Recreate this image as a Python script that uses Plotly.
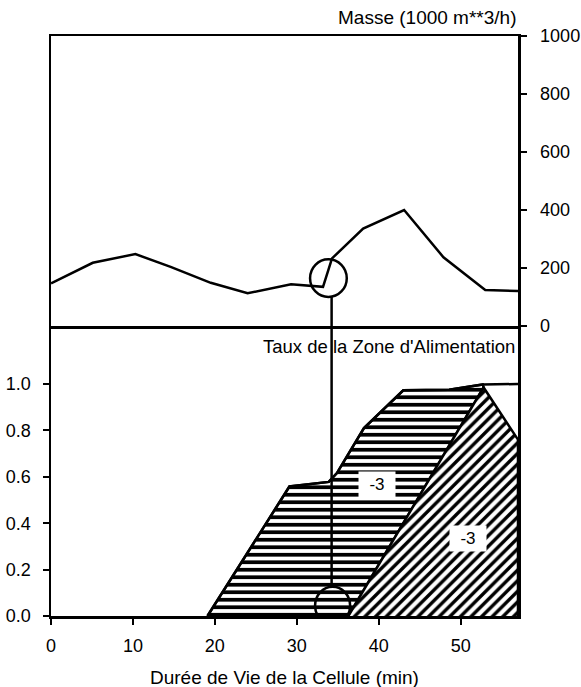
import plotly.graph_objects as go

# ---- data ----
# Top panel: Masse (1000 m**3/h) vs cell lifetime (min)
masse_x = [0, 5.1, 10.3, 14.6, 19.5, 24.0, 29.3, 33.2, 34.3, 38.1, 43.1, 47.9, 53.0, 57.0]
masse_y = [147, 218, 248, 204, 149, 113, 144, 135, 233, 336, 400, 237, 124, 121]

# Bottom panel: upper curve (Taux de la Zone d'Alimentation, cumulative)
upper_x = [19.1, 29.1, 33.9, 34.9, 38.2, 40.5, 43.0, 48.6, 52.7, 57.0]
upper_y = [0.0, 0.558, 0.578, 0.616, 0.81, 0.89, 0.973, 0.975, 0.998, 1.0]

# Bottom panel: lower curve (diagonal hatched region)
lower_x = [36.3, 52.8, 57.0, 57.0]
lower_y = [0.0, 0.985, 0.76, 0.0]

x_ticks = [0, 10, 20, 30, 40, 50]
top_ticks = [0, 200, 400, 600, 800, 1000]
bottom_ticks = [0.0, 0.2, 0.4, 0.6, 0.8, 1.0]
bottom_ticktext = ["0.0", "0.2", "0.4", "0.6", "0.8", "1.0"]

labels_text = ["-3", "-3"]
labels_x = [39.8, 50.9]
labels_y = [0.566, 0.333]

marker_x = 34.25
top_circle = dict(x=33.86, y=165, rx=2.24, ry=65)
bot_circle = dict(x=34.37, y=0.044, rx=2.14, ry=0.082)

X_MAX = 57.0
FONT = "Liberation Sans"
FS = 19
TFS = 18
LW = 2.5

fig = go.Figure()

# horizontal-hatched region: between upper curve (up to peak) and lower diagonal edge
n_peak = len(upper_x) - 1
hx = upper_x[:n_peak] + [lower_x[1], lower_x[0]]
hy = upper_y[:n_peak] + [lower_y[1], lower_y[0]]
fig.add_trace(go.Scatter(
    x=hx, y=hy, xaxis="x", yaxis="y", mode="lines", fill="toself",
    line=dict(color="black", width=LW),
    fillcolor="white",
    fillpattern=dict(shape="-", size=7.5, solidity=0.5, fgcolor="black",
                     bgcolor="white", fillmode="replace"),
    hoverinfo="skip", showlegend=False))

# diagonal-hatched region
fig.add_trace(go.Scatter(
    x=lower_x, y=lower_y, xaxis="x", yaxis="y", mode="lines", fill="toself",
    line=dict(color="black", width=LW),
    fillcolor="white",
    fillpattern=dict(shape="/", size=7.5, solidity=0.45, fgcolor="black",
                     bgcolor="white", fillmode="replace"),
    hoverinfo="skip", showlegend=False))

# full upper curve line
fig.add_trace(go.Scatter(
    x=upper_x, y=upper_y, xaxis="x", yaxis="y", mode="lines",
    line=dict(color="black", width=LW), hoverinfo="skip", showlegend=False))

# top panel line
fig.add_trace(go.Scatter(
    x=masse_x, y=masse_y, xaxis="x2", yaxis="y2", mode="lines",
    line=dict(color="black", width=LW), showlegend=False))

shapes = [
    dict(type="circle", xref="x2", yref="y2",
         x0=top_circle["x"] - top_circle["rx"], x1=top_circle["x"] + top_circle["rx"],
         y0=top_circle["y"] - top_circle["ry"], y1=top_circle["y"] + top_circle["ry"],
         line=dict(color="black", width=LW)),
    dict(type="line", xref="x2", yref="y2", x0=marker_x, x1=marker_x,
         y0=top_circle["y"] - top_circle["ry"], y1=0,
         line=dict(color="black", width=LW)),
    dict(type="line", xref="x", yref="y", x0=marker_x, x1=marker_x,
         y0=1.25, y1=bot_circle["y"] + bot_circle["ry"],
         line=dict(color="black", width=LW)),
    dict(type="circle", xref="x", yref="y",
         x0=bot_circle["x"] - bot_circle["rx"], x1=bot_circle["x"] + bot_circle["rx"],
         y0=bot_circle["y"] - bot_circle["ry"], y1=bot_circle["y"] + bot_circle["ry"],
         line=dict(color="black", width=LW)),
]

annotations = [
    dict(text="Masse (1000 m**3/h)", xref="paper", yref="paper", x=1.0, y=1 + 19 / 580,
         xanchor="right", yanchor="middle", showarrow=False,
         font=dict(family=FONT, size=FS, color="black")),
    dict(text="Taux de la Zone d'Alimentation", xref="x", yref="y", x=X_MAX - 0.1, y=1.161,
         xanchor="right", yanchor="middle", showarrow=False,
         font=dict(family=FONT, size=FS - 0.5, color="black")),
    dict(text="Durée de Vie de la Cellule (min)", xref="paper", yref="paper", x=0.5,
         y=-(677 - 616) / 580, xanchor="center", yanchor="middle", showarrow=False,
         font=dict(family=FONT, size=FS, color="black")),
]
for t, lx, ly in zip(labels_text, labels_x, labels_y):
    annotations.append(dict(text=t, xref="x", yref="y", x=lx, y=ly, showarrow=False,
                            bgcolor="white", width=34, height=23,
                            font=dict(family=FONT, size=17, color="black")))

axis_common = dict(showgrid=False, zeroline=False, linecolor="black", linewidth=LW,
                   tickcolor="black", tickwidth=2, ticklen=6,
                   tickfont=dict(family=FONT, size=TFS, color="black"))

fig.update_layout(
    width=581, height=687,
    margin=dict(l=51, r=63, t=36, b=71, autoexpand=False),
    paper_bgcolor="white", plot_bgcolor="rgba(0,0,0,0)",
    font=dict(family=FONT, size=FS, color="black"),
    showlegend=False,
    xaxis=dict(domain=[0, 1], anchor="y", range=[0, X_MAX], tickvals=x_ticks,
               ticks="outside", showline=True, mirror=False, ticklabelstandoff=6,
               automargin=False, **axis_common),
    yaxis=dict(domain=[0, 0.5], anchor="x", range=[0, 1.25], tickvals=bottom_ticks,
               ticktext=bottom_ticktext, ticks="outside", showline=True, mirror=True,
               ticklabelstandoff=8, automargin=False, **axis_common),
    xaxis2=dict(domain=[0, 1], anchor="y2", range=[0, X_MAX], matches="x",
                showticklabels=False, ticks="", showline=True, mirror=True,
                automargin=False, **axis_common),
    yaxis2=dict(domain=[0.5, 1], anchor="x2", range=[0, 1000], tickvals=top_ticks,
                side="right", ticks="outside", showline=True, mirror=True,
                ticklabelstandoff=10, automargin=False, **axis_common),
    shapes=shapes,
    annotations=annotations,
)

fig.write_html("out.html", config={"displayModeBar": False, "staticPlot": True})

# remove the default page margin so the figure sits at the window's top-left corner
with open("out.html", "r", encoding="utf-8") as f:
    html = f.read()
html = html.replace("<head>", "<head><style>html,body{margin:0;padding:0;overflow:hidden;}</style>", 1)
with open("out.html", "w", encoding="utf-8") as f:
    f.write(html)
